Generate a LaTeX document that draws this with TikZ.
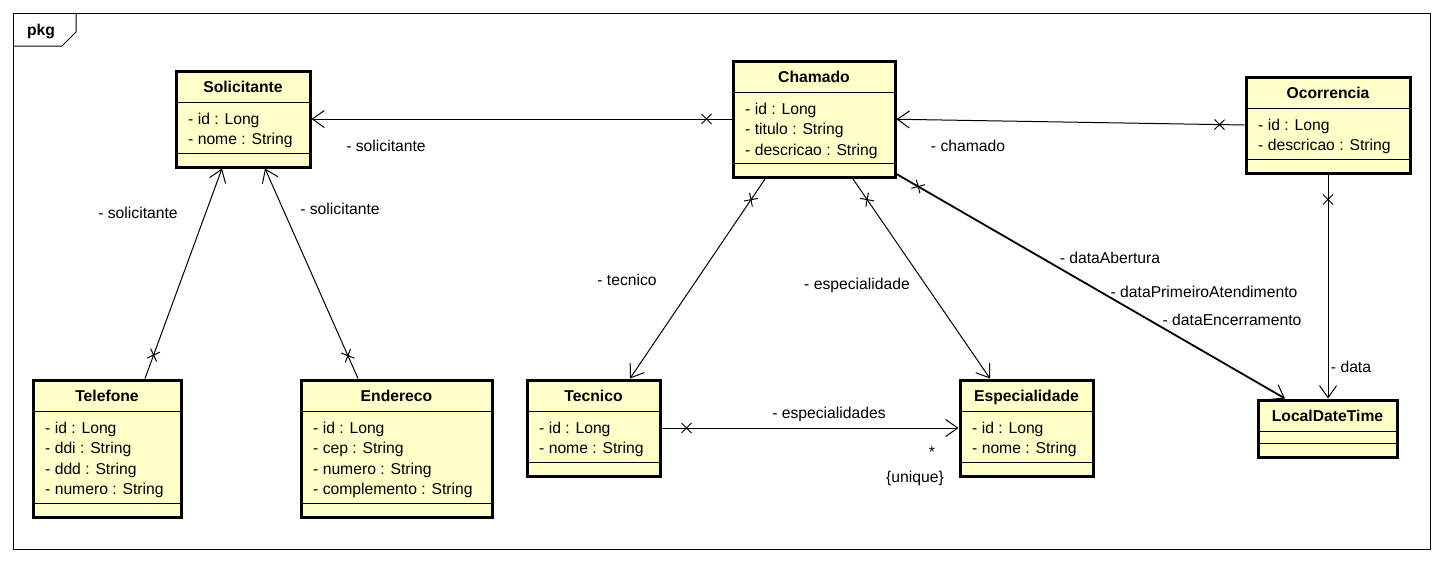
\documentclass[tikz,border=0pt]{standalone}
\usepackage{fontspec}
\setmainfont{Liberation Sans}
\usetikzlibrary{arrows.meta,decorations.markings,calc}
\definecolor{classfill}{RGB}{255,255,202}
\tikzset{
  classbox/.style={draw, line width=3pt, fill=classfill, inner sep=0pt},
  classtitle/.style={font=\fontsize{15.7}{18}\selectfont\bfseries, inner sep=0pt, anchor=base},
  attr/.style={font=\fontsize{15.7}{18}\selectfont, anchor=base west, inner sep=0pt},
  lbl/.style={font=\fontsize{15.7}{18}\selectfont, inner sep=0pt, anchor=base},
  divider/.style={line width=1pt},
  assoc/.style={line width=1pt, -{Straight Barb[length=12pt,width=17pt,line width=1pt]}},
  xmarkat/.style={postaction={decorate}, decoration={markings, mark=at position #1 with {\draw[line width=1pt,-] (-5pt,-5pt)--(5pt,5pt) (-5pt,5pt)--(5pt,-5pt);}}},
}
% name, left, top, width, title, n attrs, attrs
\newcommand\umlclass[7]{%
  \ifnum#6>0 \pgfmathsetmacro\attrh{#6*20.5+10}\else\def\attrh{12}\fi
  \pgfmathsetmacro\boxh{31+\attrh+14}
  \node[classbox, minimum width=#4pt, minimum height=\boxh pt] (#1) at ({#2+#4/2},{#3+\boxh/2}) {};
  \node[classtitle] (#1-t) at ({#2+#4/2},{#3+21.5}) {#5};
  \draw[divider] (#2,{#3+31}) -- ++(#4,0);
  \draw[divider] (#2,{#3+31+\attrh}) -- ++(#4,0);
  \ifnum#6>0
    \foreach \a [count=\i] in {#7} {\node[attr] (#1-a\i) at ({#2+12},{#3+53+(\i-1)*20.5}) {\a};}
  \fi
}
\begin{document}
\begin{tikzpicture}[x=1pt,y=-1pt]
\useasboundingbox (0,0) rectangle (1442,562);
% frame
\draw[line width=1pt] (13,13) rectangle (1430,549);
\draw[line width=1pt] (13,46) -- (62,46) -- (76,32) -- (76,13);
\node[font=\fontsize{15.7}{18}\selectfont\bfseries, inner sep=0pt] (pkg) at (41,31) {pkg};

\umlclass{Solicitante}{176}{71}{134}{Solicitante}{2}{- id : Long,- nome : String}
\umlclass{Chamado}{733}{61}{162}{Chamado}{3}{- id : Long,- titulo : String,- descricao : String}
\umlclass{Ocorrencia}{1246}{77}{164}{Ocorrencia}{2}{- id : Long,- descricao : String}
\umlclass{Telefone}{33}{380}{148}{Telefone}{4}{- id : Long,- ddi : String,- ddd : String,- numero : String}
\umlclass{Endereco}{301}{380}{191}{Endereco}{4}{- id : Long,- cep : String,- numero : String,- complemento : String}
\umlclass{Tecnico}{527}{380}{133}{Tecnico}{2}{- id : Long,- nome : String}
\umlclass{Especialidade}{960}{380}{133}{Especialidade}{2}{- id : Long,- nome : String}
\umlclass{LocalDateTime}{1258}{400}{139}{LocalDateTime}{0}{}

% connectors
\draw[assoc, xmarkat=25pt] (Chamado.west |- Solicitante.east) -- (Solicitante.east);
\draw[assoc, xmarkat=25pt] (Ocorrencia.west) -- (Chamado.east);
\draw[assoc, xmarkat=25pt] ([xshift=38pt]Telefone.north) -- ([xshift=-21pt]Solicitante.south);
\draw[assoc, xmarkat=25pt] ([xshift=-38.5pt]Endereco.north) -- ([xshift=22pt]Solicitante.south);
\draw[assoc, xmarkat=25pt] ([xshift=-49pt]Chamado.south) -- ([xshift=36.5pt]Tecnico.north);
\draw[assoc, xmarkat=25pt] ([xshift=39pt]Chamado.south) -- ([xshift=-36.5pt]Especialidade.north);
\draw[assoc, line width=1.8pt, xmarkat=25pt] ([yshift=5pt]Chamado.south east) -- ([xshift=-42.5pt]LocalDateTime.north);
\draw[assoc, xmarkat=25pt] (Ocorrencia.south) -- (Ocorrencia.south |- LocalDateTime.north);
\draw[assoc, xmarkat=25pt] (Tecnico.east) -- (Especialidade.west);

% labels
\node[lbl] (l1) at (386,151.5) {- solicitante};
\node[lbl] (l2) at (968,151.5) {- chamado};
\node[lbl] (l3) at (138,218.5) {- solicitante};
\node[lbl] (l4) at (340,214.5) {- solicitante};
\node[lbl] (l5) at (627,285.5) {- tecnico};
\node[lbl] (l6) at (857,289.5) {- especialidade};
\node[lbl] (l7) at (1110,263.5) {- dataAbertura};
\node[lbl] (l8) at (1204,297.5) {- dataPrimeiroAtendimento};
\node[lbl] (l9) at (1232,325.5) {- dataEncerramento};
\node[lbl] (l10) at (1351,372.5) {- data};
\node[lbl] (l11) at (829,418.5) {- especialidades};
\node[lbl] (l12) at (932,457.5) {*};
\node[lbl] (l13) at (915,482.5) {\{unique\}};
\end{tikzpicture}
\end{document}
